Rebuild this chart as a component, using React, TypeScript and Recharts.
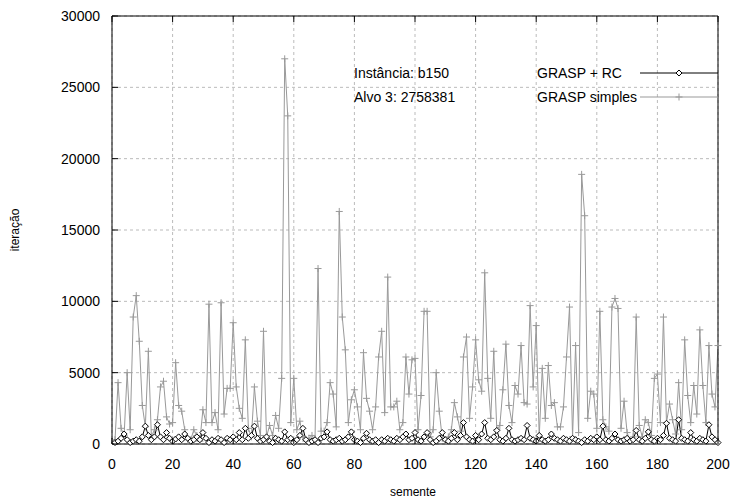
import React from "react";
import {
  LineChart,
  Line,
  XAxis,
  YAxis,
  CartesianGrid,
} from "recharts";

// iterations per seed (semente 1..200)
const graspSimples = [
  300, 4300, 1100, 600, 5000, 1000, 8900, 10400, 7200, 2700,
  1200, 6500, 500, 1000, 1700, 4000, 4400, 1900, 1400, 1500,
  5700, 2700, 2300, 1000, 300, 300, 1000, 600, 200, 2400,
  1500, 9800, 1500, 2200, 1000, 9900, 2100, 3900, 3900, 8500,
  4000, 2500, 1800, 7300, 1100, 500, 4000, 1600, 600, 7900,
  500, 1300, 600, 2000, 1100, 4600, 27000, 23000, 1500, 4600,
  1000, 1600, 500, 200, 400, 600, 300, 12300, 900, 900,
  1500, 4300, 3500, 1200, 16300, 8900, 6600, 1500, 3100, 3800,
  2600, 1000, 6400, 3200, 2300, 1000, 2600, 6100, 7900, 2200,
  11700, 2600, 2600, 3000, 1000, 1500, 6100, 3500, 5900, 6000,
  1000, 3400, 9300, 9300, 500, 1000, 5000, 2300, 400, 300,
  500, 1000, 2900, 1900, 900, 6100, 7500, 1800, 4000, 7300,
  4500, 3700, 12000, 4600, 1800, 6500, 1000, 1300, 3800, 7000,
  2700, 1500, 4100, 3500, 6900, 2900, 2800, 9700, 4000, 8300,
  500, 5300, 1800, 5500, 2700, 2900, 1200, 1200, 2600, 6100,
  9600, 500, 6900, 800, 18900, 16000, 1800, 3700, 3500, 1100,
  9300, 1700, 1200, 900, 9600, 10200, 9500, 1100, 3000, 800,
  200, 500, 8900, 1300, 500, 1700, 1500, 600, 4600, 4900,
  1500, 8900, 1500, 2800, 1700, 700, 4300, 1000, 7300, 3400,
  1500, 4100, 2100, 8000, 4100, 1500, 6900, 3500, 2600, 6900,
];

const graspRc = [
  100, 200, 400, 700, 300, 100, 200, 300, 200, 500,
  1250, 600, 300, 500, 1350, 500, 300, 800, 400, 200,
  350, 500, 300, 700, 400, 200, 300, 500, 300, 800,
  400, 100, 300, 200, 400, 300, 100, 400, 300, 500,
  300, 800, 300, 1100, 400, 600, 1250, 400, 200, 300,
  500, 200, 100, 400, 300, 200, 850, 300, 400, 100,
  300, 600, 1100, 300, 100, 200, 300, 100, 400, 500,
  850, 300, 200, 300, 400, 200, 300, 500, 850, 300,
  200, 100, 400, 750, 300, 200, 300, 100, 300, 200,
  400, 300, 200, 400, 300, 500, 700, 300, 400, 800,
  300, 200, 500, 800, 300, 100, 200, 400, 800, 300,
  200, 400, 800, 300, 600, 1500, 500, 300, 200, 600,
  300, 700, 1500, 400, 300, 500, 950, 300, 200, 400,
  1100, 300, 200, 300, 400, 300, 1300, 400, 300, 200,
  600, 300, 200, 300, 700, 400, 300, 200, 400, 300,
  200, 400, 300, 200, 100, 300, 200, 400, 300, 500,
  300, 1250, 300, 200, 400, 700, 300, 200, 300, 400,
  200, 300, 950, 300, 200, 400, 850, 300, 200, 400,
  300, 600, 1450, 400, 300, 200, 1700, 400, 300, 200,
  800, 300, 200, 400, 300, 200, 1350, 500, 300, 100,
];

const xTicks = [0, 20, 40, 60, 80, 100, 120, 140, 160, 180, 200];
const yTicks = [0, 5000, 10000, 15000, 20000, 25000, 30000];

const data = graspSimples.map((v, i) => ({
  semente: i + 1,
  simples: v,
  rc: graspRc[i],
}));

const FONT = '"Liberation Sans", Arial, sans-serif';

const PlusDot = (props: any) => {
  const { cx, cy } = props;
  if (cx == null || cy == null) return <g />;
  return (
    <path
      d={`M${cx - 3.5},${cy}H${cx + 3.5}M${cx},${cy - 3.5}V${cy + 3.5}`}
      stroke="#999"
      strokeWidth={1}
      fill="none"
    />
  );
};

const DiamondDot = (props: any) => {
  const { cx, cy } = props;
  if (cx == null || cy == null) return <g />;
  return (
    <path
      d={`M${cx},${cy - 3}L${cx + 3},${cy}L${cx},${cy + 3}L${cx - 3},${cy}Z`}
      stroke="#000"
      strokeWidth={1}
      fill="#fff"
    />
  );
};

const LeftTick = (props: any) => {
  const { x, y, payload } = props;
  return (
    <g>
      <line x1={x + 12} x2={x + 18} y1={y} y2={y} stroke="#000" />
      <text x={x} y={y} dy={5} textAnchor="end" fontSize={14} fontFamily={FONT} fill="#000">
        {payload.value}
      </text>
    </g>
  );
};

const RightTick = (props: any) => {
  const { x, y } = props;
  return <line x1={x - 6} x2={x} y1={y} y2={y} stroke="#000" />;
};

const BottomTick = (props: any) => {
  const { x, y, payload } = props;
  return (
    <g>
      <line x1={x} x2={x} y1={y - 14} y2={y - 20} stroke="#000" />
      <text x={x} y={y} dy={11} textAnchor="middle" fontSize={14} fontFamily={FONT} fill="#000">
        {payload.value}
      </text>
    </g>
  );
};

const TopTick = (props: any) => {
  const { x, y } = props;
  return <line x1={x} x2={x} y1={y} y2={y + 6} stroke="#000" />;
};

export default function App() {
  return (
    <div style={{ position: "absolute", left: 0, top: 0, width: 731, height: 503, background: "#fff", fontFamily: FONT }}>
      <LineChart width={731} height={503} data={data} margin={{ top: 0, right: 0, bottom: 0, left: 0 }}>
        <CartesianGrid xAxisId="b" yAxisId="l" stroke="#bbb" strokeDasharray="3 3" />
        <XAxis
          xAxisId="b"
          dataKey="semente"
          type="number"
          domain={[0, 200]}
          ticks={xTicks}
          height={59}
          tickSize={0}
          tickMargin={14}
          axisLine={{ stroke: "#000" }}
          tick={<BottomTick />}
          interval={0}
        />
        <XAxis
          xAxisId="t"
          orientation="top"
          dataKey="semente"
          type="number"
          domain={[0, 200]}
          ticks={xTicks}
          height={16}
          tickSize={0}
          tickMargin={0}
          axisLine={{ stroke: "#000" }}
          tick={<TopTick />}
          interval={0}
        />
        <YAxis
          yAxisId="l"
          type="number"
          domain={[0, 30000]}
          ticks={yTicks}
          width={112}
          tickSize={0}
          tickMargin={12}
          axisLine={{ stroke: "#000" }}
          tick={<LeftTick />}
          interval={0}
        />
        <YAxis
          yAxisId="r"
          orientation="right"
          type="number"
          domain={[0, 30000]}
          ticks={yTicks}
          width={13}
          tickSize={0}
          tickMargin={0}
          axisLine={{ stroke: "#000" }}
          tick={<RightTick />}
          interval={0}
        />
        <Line
          xAxisId="b"
          yAxisId="l"
          type="linear"
          dataKey="simples"
          stroke="#999"
          strokeWidth={1}
          dot={<PlusDot />}
          activeDot={false}
          isAnimationActive={false}
        />
        <Line
          xAxisId="b"
          yAxisId="l"
          type="linear"
          dataKey="rc"
          stroke="#000"
          strokeWidth={1}
          dot={<DiamondDot />}
          activeDot={false}
          isAnimationActive={false}
        />
      </LineChart>

      <div style={{ position: "absolute", left: 354, top: 61, fontSize: 14, lineHeight: "24px", color: "#000", whiteSpace: "nowrap" }}>
        <div>Instância: b150</div>
        <div>Alvo 3: 2758381</div>
      </div>

      <div style={{ position: "absolute", left: 537, top: 61, fontSize: 14, lineHeight: "24px", color: "#000", whiteSpace: "nowrap" }}>
        <div style={{ display: "flex", alignItems: "center", height: 24 }}>
          <span style={{ width: 103 }}>GRASP + RC</span>
          <svg width={78} height={10}>
            <line x1={0} x2={78} y1={5} y2={5} stroke="#000" />
            <path d="M39,2L42,5L39,8L36,5Z" stroke="#000" fill="#fff" />
          </svg>
        </div>
        <div style={{ display: "flex", alignItems: "center", height: 24 }}>
          <span style={{ width: 103 }}>GRASP simples</span>
          <svg width={78} height={10}>
            <line x1={0} x2={78} y1={5} y2={5} stroke="#999" />
            <path d="M35.5,5H42.5M39,1.5V8.5" stroke="#999" fill="none" />
          </svg>
        </div>
      </div>

      <div
        style={{
          position: "absolute",
          left: 15,
          top: 230,
          fontSize: 12,
          color: "#000",
          whiteSpace: "nowrap",
          transform: "translate(-50%, -50%) rotate(-90deg)",
        }}
      >
        iteração
      </div>
      <div
        style={{
          position: "absolute",
          left: 413,
          top: 492,
          fontSize: 12,
          color: "#000",
          whiteSpace: "nowrap",
          transform: "translate(-50%, -50%)",
        }}
      >
        semente
      </div>
    </div>
  );
}
